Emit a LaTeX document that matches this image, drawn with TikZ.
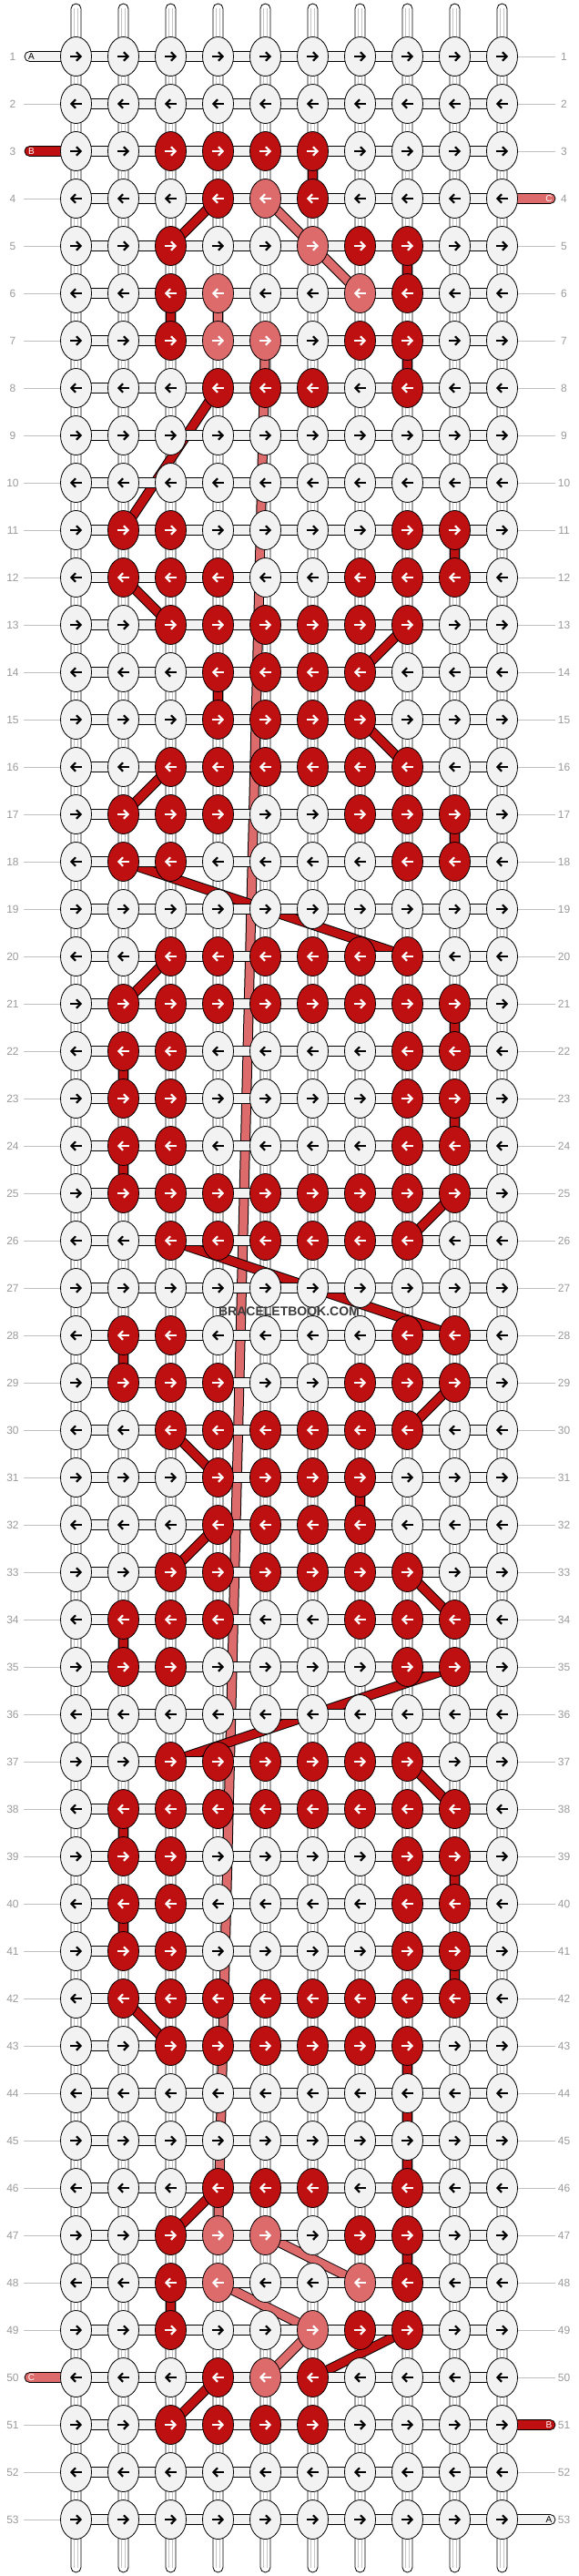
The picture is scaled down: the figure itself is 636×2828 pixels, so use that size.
\documentclass[tikz,border=0pt]{standalone}
\usepackage{fontspec}
\setmainfont{Liberation Sans}
\usetikzlibrary{shapes.geometric,arrows.meta}
\definecolor{kW}{HTML}{F2F2F2}
\definecolor{kR}{HTML}{BE1010}
\definecolor{kP}{HTML}{DD6B6B}
\definecolor{lblgrey}{HTML}{9A9A9A}
\definecolor{lgrey}{HTML}{C0C0C0}
\definecolor{sgrey}{HTML}{C4C4C4}
\definecolor{wmgrey}{HTML}{3C3C3C}
\pgfdeclarelayer{bg}
\pgfdeclarelayer{strings}
\pgfdeclarelayer{colored}
\pgfdeclarelayer{hconn}
\pgfdeclarelayer{top}
\pgfsetlayers{bg,strings,colored,hconn,main,top}
\newcount\kc
\def\knotrow#1#2{\def\kr{#1}\global\kc=0 \expandafter\knotparse#2\relax}
\def\knotparse#1{\ifx#1\relax\else\global\advance\kc by 1 \knotdraw{\kr}{\the\kc}{#1}\expandafter\knotparse\fi}
\def\knotdraw#1#2#3{%
 \node[knot,fill=k#3] (k-#1-#2) at ({83.5+52*(#2-1)},{62+52*(#1-1)}) {};%
 \if#3W\def\acol{black}\else\def\acol{white}\fi
 \ifodd#1\relax
   \draw[arr,draw=\acol] ([xshift=-6.5pt]k-#1-#2.center) -- ([xshift=6.5pt]k-#1-#2.center);%
 \else
   \draw[arr,draw=\acol] ([xshift=6.5pt]k-#1-#2.center) -- ([xshift=-6.5pt]k-#1-#2.center);%
 \fi}
\newcommand\cstr[3]{%
 \draw[line width=11pt,draw=black] (#2.center) -- (#3.center);%
 \draw[line width=9pt,draw=#1] (#2.center) -- (#3.center);}
\tikzset{
 knot/.style={ellipse,draw=black,line width=0.8pt,minimum width=34pt,minimum height=43pt,inner sep=0pt},
 arr/.style={line width=2.2pt,-{Straight Barb[length=4.5pt,width=9.5pt]}},
 hcon/.style={draw=black,fill=kW,line width=0.8pt},
 colstr/.style={draw=black,fill=white,line width=0.8pt,rounded corners=5.5pt},
 strline/.style={draw=sgrey,line width=0.7pt},
 rowline/.style={draw=lgrey,line width=0.9pt},
 lbl/.style={inner sep=0pt,text=lblgrey,font=\fontsize{12}{14}\selectfont},
 stub/.style={draw=black,line width=0.8pt,rounded corners=5.5pt},
 stublbl/.style={inner sep=0pt,font=\fontsize{10}{12}\selectfont},
 wm/.style={inner sep=0pt,text=wmgrey,font=\bfseries\fontsize{14}{16}\selectfont}
}
\begin{document}
\begin{tikzpicture}[x=1pt,y=-1pt]
\useasboundingbox (0,0) rectangle (636,2828);
\begin{pgfonlayer}{bg}
\fill[white] (0,0) rectangle (636,2828);
\end{pgfonlayer}
% knots
\foreach \r/\s in {
1/WWWWWWWWWW,2/WWWWWWWWWW,3/WWRRRRWWWW,4/WWWRPRWWWW,5/WWRWWPRRWW,6/WWRPWWPRWW,7/WWRPPWRRWW,8/WWWRRRWRWW,9/WWWWWWWWWW,10/WWWWWWWWWW,
11/WRRWWWWRRW,12/WRRRWWRRRW,13/WWRRRRRRWW,14/WWWRRRRWWW,15/WWWRRRRWWW,16/WWRRRRRRWW,17/WRRRWWRRRW,18/WRRWWWWRRW,19/WWWWWWWWWW,20/WWRRRRRRWW,
21/WRRRRRRRRW,22/WRRWWWWRRW,23/WRRWWWWRRW,24/WRRWWWWRRW,25/WRRRRRRRRW,26/WWRRRRRRWW,27/WWWWWWWWWW,28/WRRWWWWRRW,29/WRRRWWRRRW,30/WWRRRRRRWW,
31/WWWRRRRWWW,32/WWWRRRRWWW,33/WWRRRRRRWW,34/WRRRWWRRRW,35/WRRWWWWRRW,36/WWWWWWWWWW,37/WWRRRRRRWW,38/WRRRRRRRRW,39/WRRWWWWRRW,40/WRRWWWWRRW,
41/WRRWWWWRRW,42/WRRRRRRRRW,43/WWRRRRRRWW,44/WWWWWWWWWW,45/WWWWWWWWWW,46/WWWRRRWRWW,47/WWRPPWRRWW,48/WWRPWWPRWW,49/WWRWWPRRWW,50/WWWRPRWWWW,
51/WWRRRRWWWW,52/WWWWWWWWWW,53/WWWWWWWWWW}
{\knotrow{\r}{\s}}
% column strings
\foreach \c in {1,...,10} {
 \pgfmathsetmacro\xx{83.5+52*(\c-1)}
 \coordinate (ct-\c) at (\xx,4);
 \coordinate (cb-\c) at (\xx,2824);
 \begin{pgfonlayer}{strings}
 \draw[colstr] ([xshift=-5.5pt]ct-\c) rectangle ([xshift=5.5pt]cb-\c);
 \draw[strline] ([xshift=-1.8pt,yshift=-5pt]ct-\c) -- ([xshift=-1.8pt,yshift=5pt]cb-\c);
 \draw[strline] ([xshift=1.8pt,yshift=-5pt]ct-\c) -- ([xshift=1.8pt,yshift=5pt]cb-\c);
 \end{pgfonlayer}
}
% horizontal connectors
\begin{pgfonlayer}{hconn}
\foreach \r in {1,...,53} {
 \draw[hcon] ([yshift=5.5pt]k-\r-1.center) rectangle ([yshift=-5.5pt]k-\r-10.center);
}
\end{pgfonlayer}
% row labels
\foreach \r in {1,...,53} {
 \pgfmathsetmacro\yy{62+52*(\r-1)}
 \node[lbl] (ll-\r) at (14,\yy) {\r};
 \node[lbl] (rl-\r) at (619.5,\yy) {\r};
}
\begin{pgfonlayer}{strings}
\foreach \r in {2,4,5,...,49,51,52,53} {
 \pgfmathsetmacro\yy{62+52*(\r-1)}
 \coordinate (la-\r) at (26,\yy);
 \draw[rowline] (la-\r) -- (k-\r-1.center);
}
\foreach \r in {1,2,3,5,6,...,50,52} {
 \pgfmathsetmacro\yy{62+52*(\r-1)}
 \coordinate (ra-\r) at (610,\yy);
 \draw[rowline] (k-\r-10.center) -- (ra-\r);
}
\end{pgfonlayer}
% string stubs
\foreach \r/\col/\txt/\lab in {1/kW/black/A,3/kR/white/B,50/kP/white/C} {
 \pgfmathsetmacro\yy{62+52*(\r-1)}
 \coordinate (sl-\r) at (27,\yy);
 \begin{pgfonlayer}{strings}
 \draw[stub,fill=\col] ([yshift=5.5pt]sl-\r) rectangle ([yshift=-5.5pt]k-\r-1.center);
 \end{pgfonlayer}
 \node[stublbl,text=\txt] (slab-\r) at (34.5,\yy) {\lab};
}
\foreach \r/\col/\txt/\lab in {4/kP/white/C,51/kR/white/B,53/kW/black/A} {
 \pgfmathsetmacro\yy{62+52*(\r-1)}
 \coordinate (sr-\r) at (610,\yy);
 \begin{pgfonlayer}{strings}
 \draw[stub,fill=\col] ([yshift=5.5pt]k-\r-10.center) rectangle ([yshift=-5.5pt]sr-\r);
 \end{pgfonlayer}
 \node[stublbl,text=\txt] (srlab-\r) at (603,\yy) {\lab};
}
% coloured strings
\begin{pgfonlayer}{colored}
\cstr{kP}{k-7-5}{k-47-4}
\foreach \a/\b in {4-5/5-6,5-6/6-7,6-4/7-4,47-5/48-7,48-4/49-6,49-6/50-5} {\cstr{kP}{k-\a}{k-\b}}
\foreach \a/\b in {3-6/4-6,4-4/5-3,5-8/6-8,6-3/7-3,7-8/8-8,8-4/11-2,11-9/12-9,12-2/13-3,13-8/14-7,14-4/15-4,15-7/16-8,16-3/17-2,17-9/18-9,18-2/20-8,20-3/21-2,21-9/22-9,22-2/23-2,23-9/24-9,24-2/25-2,25-9/26-8,26-3/28-9,28-2/29-2,29-9/30-8,30-3/31-4,31-7/32-7,32-4/33-3,33-8/34-9,34-2/35-2,35-9/37-3,37-8/38-9,38-2/39-2,39-9/40-9,40-2/41-2,41-9/42-9,42-2/43-3,43-8/46-8,46-4/47-3,47-8/48-8,48-3/49-3,49-8/50-6,50-4/51-3} {\cstr{kR}{k-\a}{k-\b}}
\end{pgfonlayer}
% watermark
\begin{pgfonlayer}{top}
\node[wm] (wm) at (317.5,1440) {BRACELETBOOK.COM};
\end{pgfonlayer}
\end{tikzpicture}
\end{document}
